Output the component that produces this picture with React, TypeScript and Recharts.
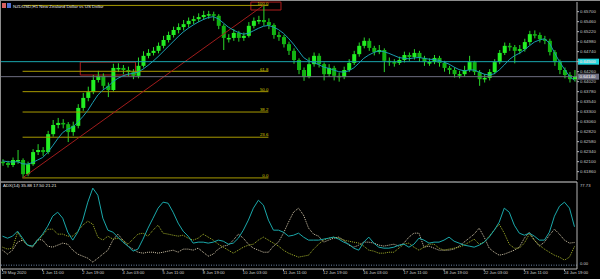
import React from 'react';
import { ComposedChart, Bar, Line, XAxis, YAxis, ReferenceLine, ReferenceArea } from 'recharts';

// NZDUSD H1, grouped 4 bars per candle
const closes = [
  0.6207, 0.6202, 0.6214, 0.6214, 0.6180, 0.6204, 0.6233, 0.6238, 0.6233, 0.6276,
  0.6298, 0.6303, 0.6300, 0.6281, 0.6296, 0.6339, 0.6363, 0.6377, 0.6406, 0.6416,
  0.6392, 0.6382, 0.6435, 0.6435, 0.6430, 0.6425, 0.6416, 0.6440, 0.6464, 0.6471,
  0.6476, 0.6488, 0.6502, 0.6514, 0.6526, 0.6533, 0.6540, 0.6548, 0.6552, 0.6557,
  0.6562, 0.6564, 0.6560, 0.6536, 0.6507, 0.6507, 0.6519, 0.6507, 0.6512, 0.6536,
  0.6548, 0.6550, 0.6545, 0.6538, 0.6514, 0.6509, 0.6492, 0.6476, 0.6454, 0.6430,
  0.6413, 0.6444, 0.6464, 0.6444, 0.6420, 0.6435, 0.6416, 0.6413, 0.6430, 0.6447,
  0.6468, 0.6488, 0.6500, 0.6483, 0.6473, 0.6478, 0.6452, 0.6449, 0.6447, 0.6454,
  0.6466, 0.6461, 0.6471, 0.6459, 0.6449, 0.6449, 0.6459, 0.6447, 0.6435, 0.6430,
  0.6420, 0.6420, 0.6430, 0.6449, 0.6425, 0.6408, 0.6411, 0.6425, 0.6449, 0.6471,
  0.6488, 0.6485, 0.6476, 0.6480, 0.6497, 0.6516, 0.6514, 0.6504, 0.6500, 0.6473,
  0.6449, 0.6430, 0.6418, 0.6408, 0.6414,
];
const highs = [
  0.6216, 0.6212, 0.6220, 0.6238, 0.6218, 0.6210, 0.6240, 0.6252, 0.6245, 0.6284,
  0.6310, 0.6315, 0.6312, 0.6305, 0.6306, 0.6348, 0.6375, 0.6390, 0.6418, 0.6428,
  0.6422, 0.6400, 0.6445, 0.6446, 0.6442, 0.6438, 0.6432, 0.6460, 0.6475, 0.6480,
  0.6485, 0.6496, 0.6512, 0.6522, 0.6534, 0.6542, 0.6550, 0.6556, 0.6560, 0.6566,
  0.6572, 0.6572, 0.6570, 0.6564, 0.6540, 0.6516, 0.6528, 0.6524, 0.6520, 0.6545,
  0.6556, 0.6560, 0.6584, 0.6554, 0.6542, 0.6522, 0.6514, 0.6498, 0.6482, 0.6458,
  0.6436, 0.6460, 0.6472, 0.6470, 0.6448, 0.6444, 0.6440, 0.6424, 0.6438, 0.6456,
  0.6476, 0.6496, 0.6508, 0.6506, 0.6488, 0.6490, 0.6482, 0.6460, 0.6456, 0.6462,
  0.6474, 0.6472, 0.6480, 0.6476, 0.6464, 0.6458, 0.6466, 0.6464, 0.6452, 0.6440,
  0.6436, 0.6428, 0.6440, 0.6464, 0.6452, 0.6430, 0.6420, 0.6432, 0.6456, 0.6478,
  0.6496, 0.6495, 0.6490, 0.6490, 0.6505, 0.6524, 0.6525, 0.6520, 0.6512, 0.6505,
  0.6478, 0.6455, 0.6436, 0.6425, 0.6430,
];
const lows = [
  0.6200, 0.6196, 0.6197, 0.6205, 0.6171, 0.6175, 0.6200, 0.6226, 0.6224, 0.6228,
  0.6270, 0.6290, 0.6290, 0.6257, 0.6272, 0.6290, 0.6332, 0.6355, 0.6372, 0.6400,
  0.6385, 0.6365, 0.6378, 0.6425, 0.6420, 0.6415, 0.6408, 0.6410, 0.6436, 0.6458,
  0.6465, 0.6470, 0.6482, 0.6496, 0.6508, 0.6518, 0.6525, 0.6532, 0.6540, 0.6545,
  0.6550, 0.6553, 0.6548, 0.6528, 0.6478, 0.6496, 0.6500, 0.6498, 0.6500, 0.6508,
  0.6530, 0.6540, 0.6536, 0.6528, 0.6505, 0.6500, 0.6484, 0.6466, 0.6445, 0.6420,
  0.6404, 0.6410, 0.6438, 0.6436, 0.6405, 0.6414, 0.6405, 0.6402, 0.6408, 0.6425,
  0.6442, 0.6462, 0.6482, 0.6476, 0.6465, 0.6468, 0.6425, 0.6440, 0.6438, 0.6442,
  0.6448, 0.6452, 0.6455, 0.6450, 0.6440, 0.6440, 0.6444, 0.6438, 0.6426, 0.6420,
  0.6412, 0.6410, 0.6415, 0.6425, 0.6418, 0.6392, 0.6400, 0.6405, 0.6420, 0.6444,
  0.6466, 0.6476, 0.6446, 0.6468, 0.6474, 0.6490, 0.6506, 0.6496, 0.6492, 0.6465,
  0.6440, 0.6420, 0.6410, 0.6400, 0.6402,
];
const maTeal = [
  0.6212, 0.6210, 0.6209, 0.6210, 0.6205, 0.6204, 0.6208, 0.6214, 0.6220, 0.6232,
  0.6248, 0.6265, 0.6280, 0.6288, 0.6293, 0.6305, 0.6318, 0.6333, 0.6352, 0.6370,
  0.6382, 0.6390, 0.6402, 0.6410, 0.6416, 0.6420, 0.6422, 0.6425, 0.6432, 0.6441,
  0.6451, 0.6462, 0.6474, 0.6486, 0.6498, 0.6510, 0.6521, 0.6530, 0.6538, 0.6545,
  0.6551, 0.6556, 0.6558, 0.6553, 0.6543, 0.6533, 0.6526, 0.6520, 0.6516, 0.6518,
  0.6524, 0.6530, 0.6535, 0.6537, 0.6533, 0.6527, 0.6518, 0.6506, 0.6492, 0.6476,
  0.6460, 0.6452, 0.6448, 0.6443, 0.6437, 0.6434, 0.6430, 0.6426, 0.6425, 0.6428,
  0.6435, 0.6446, 0.6458, 0.6466, 0.6472, 0.6476, 0.6474, 0.6470, 0.6465, 0.6460,
  0.6458, 0.6457, 0.6459, 0.6460, 0.6458, 0.6456, 0.6455, 0.6453, 0.6449, 0.6444,
  0.6437, 0.6431, 0.6428, 0.6430, 0.6430, 0.6425, 0.6420, 0.6418, 0.6421, 0.6430,
  0.6442, 0.6455, 0.6464, 0.6470, 0.6478, 0.6488, 0.6497, 0.6502, 0.6505, 0.6495,
  0.6472, 0.6450, 0.6432, 0.6415, 0.6405,
];

// ADX(14) panel
const adxMain = [
  27.1, 25.2, 27.1, 31.8, 25.2, 18.7, 17.8, 23.4, 29.0, 36.4,
  45.8, 49.5, 43.9, 30.8, 23.4, 30.8, 42.1, 58.9, 72.0, 65.4,
  43.9, 32.7, 30.8, 26.2, 21.5, 17.8, 13.1, 15.0, 24.3, 34.6,
  43.9, 53.3, 58.9, 57.9, 49.5, 39.3, 31.8, 27.1, 20.6, 21.5,
  21.5, 20.6, 21.5, 23.4, 22.4, 19.6, 20.6, 25.2, 32.7, 42.1,
  53.3, 60.7, 56.1, 42.1, 32.7, 32.7, 30.8, 27.1, 28.0, 29.9,
  26.2, 23.4, 23.4, 23.4, 24.3, 25.2, 26.2, 24.3, 21.5, 19.6,
  15.9, 14.0, 21.5, 26.2, 20.6, 16.8, 15.9, 15.9, 16.8, 18.7,
  19.6, 16.8, 19.6, 25.2, 23.4, 20.6, 21.5, 21.5, 23.4, 26.2,
  22.4, 20.6, 18.7, 17.8, 16.8, 18.7, 21.5, 26.2, 32.7, 40.2,
  53.3, 49.5, 37.4, 29.9, 28.0, 29.9, 27.1, 23.4, 23.4, 30.8,
  45.8, 55.1, 58.9, 53.3, 35.88,
];
const plusDI = [
  16.8, 15.0, 15.9, 30.8, 23.4, 18.7, 17.8, 22.4, 28.0, 33.6,
  33.6, 29.0, 29.0, 27.1, 27.1, 31.8, 37.4, 41.1, 38.3, 26.2,
  23.4, 27.1, 24.3, 25.2, 23.4, 19.6, 24.3, 29.0, 29.9, 27.1,
  32.7, 37.4, 29.9, 29.0, 28.0, 27.1, 28.0, 25.2, 23.4, 25.2,
  29.0, 26.2, 23.4, 19.6, 16.8, 14.0, 11.2, 14.0, 16.8, 18.7,
  19.6, 23.4, 26.2, 23.4, 20.6, 17.8, 14.0, 11.2, 9.3, 7.5,
  8.4, 9.3, 15.0, 19.6, 23.4, 25.2, 26.2, 25.2, 23.4, 22.4,
  21.5, 20.6, 17.8, 14.0, 13.1, 11.2, 11.2, 12.1, 12.1, 15.9,
  19.6, 20.6, 16.8, 14.0, 16.8, 19.6, 19.6, 15.9, 14.0, 15.0,
  15.9, 16.8, 18.7, 21.5, 24.3, 19.6, 21.5, 27.1, 32.7, 38.3,
  29.9, 19.6, 15.9, 15.9, 20.6, 29.0, 23.4, 18.7, 15.0, 12.1,
  9.3, 7.5, 4.7, 7.5, 17.5,
];
const minusDI = [
  14.0, 10.3, 14.0, 21.5, 23.4, 18.7, 16.8, 24.3, 23.4, 17.8,
  16.8, 18.7, 20.6, 19.6, 14.0, 10.3, 8.4, 6.5, 2.8, 6.5,
  10.3, 14.0, 23.4, 29.0, 23.4, 17.8, 15.0, 12.1, 11.2, 12.1,
  12.1, 11.2, 12.1, 13.1, 14.0, 12.1, 15.0, 15.0, 14.0, 15.9,
  12.1, 8.4, 10.3, 15.0, 17.8, 18.7, 23.4, 29.0, 25.2, 19.6,
  15.9, 14.0, 12.1, 12.1, 17.8, 21.5, 29.9, 40.2, 49.5, 53.3,
  46.7, 34.6, 29.0, 27.1, 21.5, 23.4, 25.2, 26.2, 23.4, 18.7,
  16.8, 18.7, 21.5, 21.5, 20.6, 18.7, 17.8, 18.7, 19.6, 17.8,
  20.6, 26.2, 29.9, 29.9, 16.8, 17.8, 15.9, 14.0, 14.0, 14.0,
  15.0, 17.8, 21.5, 25.2, 29.0, 34.6, 26.2, 15.9, 12.1, 9.3,
  10.3, 12.1, 14.0, 16.8, 25.2, 30.8, 23.4, 17.8, 21.5, 28.0,
  33.6, 29.0, 23.4, 20.6, 21.21,
];

const timeLabels = [
  '29 May 2020', '1 Jun 11:00', '2 Jun 19:00', '4 Jun 03:00', '5 Jun 11:00',
  '8 Jun 19:00', '10 Jun 03:00', '11 Jun 11:00', '12 Jun 19:00', '16 Jun 03:00',
  '17 Jun 11:00', '18 Jun 19:00', '22 Jun 03:00', '23 Jun 11:00', '24 Jun 19:00',
];
const priceTicks = [
  0.657, 0.6546, 0.6522, 0.6498, 0.6474, 0.645, 0.6426, 0.6402, 0.6378,
  0.6354, 0.633, 0.6306, 0.6282, 0.6258, 0.6234, 0.621, 0.6186,
];

const fibRatios = [0, 23.6, 38.2, 50, 61.8, 100];
const fibLow = 0.6171;
const fibHigh = 0.6585;
const fibFrom = 4;
const fibTo = 53;
const levelLine = 0.645;
const bidPrice = 0.6414;

const FONT = '"Liberation Sans", Arial, sans-serif';

const rows = closes.map((c, i) => ({
  i,
  o: i === 0 ? 0.621 : closes[i - 1],
  c,
  h: highs[i],
  l: lows[i],
  range: [lows[i], highs[i]],
  ma: maTeal[i],
  adx: adxMain[i],
  pdi: plusDI[i],
  mdi: minusDI[i],
}));
const timeTicks = timeLabels.map((_, k) => k * 8);

const Candle = (props: any) => {
  const { x, y, width, height, payload } = props;
  if (x == null || !payload) return null;
  const { o, c, h, l } = payload;
  const top = Math.min(y, y + height);
  const hh = Math.abs(height);
  const span = h - l || 1e-9;
  const toY = (v: number) => top + ((h - v) / span) * hh;
  const up = c >= o;
  const bTop = toY(Math.max(o, c));
  const bBot = toY(Math.min(o, c));
  const cx = x + width / 2;
  const col = up ? '#22ee22' : '#12b412';
  return (
    <g>
      <line x1={cx} x2={cx} y1={top} y2={top + hh} stroke="#2ad82a" strokeWidth={1} />
      <rect x={x} y={bTop} width={width} height={Math.max(1.5, bBot - bTop)} fill={col} />
    </g>
  );
};

const FibLabel = (props: any) => {
  const { viewBox, text } = props;
  if (!viewBox) return null;
  return (
    <text x={viewBox.x + viewBox.width} y={viewBox.y - 0.8} textAnchor="end" fontSize={4.4}
      fontFamily={FONT} fill="#d8c800">{text}</text>
  );
};

const PriceTag = (props: any) => {
  const { viewBox, text, bg, fg } = props;
  if (!viewBox) return null;
  const x = viewBox.x + viewBox.width + 1;
  return (
    <g>
      <rect x={x} y={viewBox.y - 3} width={21} height={6} fill={bg} />
      <text x={x + 1.5} y={viewBox.y + 1.6} fontSize={4.4} fontFamily={FONT} fill={fg}>{text}</text>
    </g>
  );
};

const TimeTick = (props: any) => {
  const { x, y, payload } = props;
  return (
    <text x={x - 0.5} y={y} dy={3.4} fontSize={4.2} fontFamily={FONT} fill="#cfcfcf" textAnchor="start">
      {timeLabels[payload.value / 8]}
    </text>
  );
};

const AdxTick = (props: any) => {
  const { x, y, payload } = props;
  const top = payload.value > 50;
  return (
    <text x={x} y={y + (top ? 5 : 0)} fontSize={4.2} fontFamily={FONT} fill="#cfcfcf" textAnchor="start">
      {payload.value.toFixed(2)}
    </text>
  );
};

export default function App() {
  return (
    <div style={{ position: 'fixed', left: 0, top: 0, width: 600, height: 279, background: '#000', overflow: 'hidden' }}>
      <div style={{ position: 'absolute', left: 0, top: 0 }}>
        <ComposedChart width={600} height={181} data={rows} margin={{ top: 2, right: 0, bottom: 1, left: 0 }}>
          <XAxis dataKey="i" type="category" scale="band" hide />
          <YAxis orientation="right" width={23} domain={[0.6166, 0.65932]} allowDataOverflow
            ticks={priceTicks} interval={0} tickSize={2} tickMargin={1}
            tick={{ fill: '#c8c8c8', fontSize: 4.4, fontFamily: FONT }}
            tickFormatter={(v: number) => v.toFixed(5)}
            axisLine={{ stroke: '#b4b4b4' }} tickLine={{ stroke: '#b4b4b4' }} />
          {fibRatios.map((r) => {
            const v = fibLow + ((fibHigh - fibLow) * r) / 100;
            return (
              <ReferenceLine key={r} segment={[{ x: fibFrom, y: v }, { x: fibTo, y: v }]}
                stroke="#a89a00" strokeWidth={1} ifOverflow="visible"
                label={<FibLabel text={r.toFixed(1)} />} />
            );
          })}
          <ReferenceLine segment={[{ x: fibFrom, y: fibLow }, { x: 52, y: fibHigh }]}
            stroke="#a01c1c" strokeWidth={1} ifOverflow="visible" />
          <ReferenceArea x1={16} x2={26} y1={0.6418} y2={0.6449} stroke="#b01c1c" strokeWidth={1}
            fill="none" fillOpacity={0} ifOverflow="visible" />
          <ReferenceArea x1={50} x2={55} y1={0.6574} y2={0.6593} stroke="#b01c1c" strokeWidth={1}
            fill="none" fillOpacity={0} ifOverflow="visible" />
          <ReferenceLine y={levelLine} stroke="#1aa6ae" strokeWidth={1}
            label={<PriceTag text="0.64500" bg="#1fd8e0" fg="#ffffff" />} />
          <ReferenceLine y={bidPrice} stroke="#6e6e80" strokeWidth={1}
            label={<PriceTag text="0.64140" bg="#6e6e80" fg="#ffffff" />} />
          <Bar dataKey="range" shape={<Candle />} barSize={4} isAnimationActive={false} />
          <Line dataKey="ma" stroke="#1b9cb0" strokeWidth={1} dot={false} isAnimationActive={false} />
        </ComposedChart>
      </div>
      <div style={{ position: 'absolute', left: 0, top: 180 }}>
        <ComposedChart width={600} height={99} data={rows} margin={{ top: 2, right: 0, bottom: 0, left: 0 }}>
          <XAxis dataKey="i" type="category" scale="band" ticks={timeTicks} interval={0} height={10}
            tickSize={2} tickMargin={0} tick={<TimeTick />}
            axisLine={{ stroke: '#b4b4b4' }} tickLine={{ stroke: '#b4b4b4' }} />
          <YAxis orientation="right" width={23} domain={[-3.6, 77.73]} allowDataOverflow
            ticks={[77.73, 0]} interval={0} tickSize={0} tickMargin={3} tick={<AdxTick />}
            axisLine={{ stroke: '#b4b4b4' }} tickLine={false} />
          <ReferenceLine y={77.73} stroke="#d8d8d8" strokeWidth={1.2} />
          <ReferenceLine y={0} stroke="#6f86a8" strokeDasharray="1 1.5" />
          <Line dataKey="mdi" stroke="#d2c6aa" strokeWidth={1} strokeDasharray="1 1" dot={false} isAnimationActive={false} />
          <Line dataKey="pdi" stroke="#a2b02a" strokeWidth={1} strokeDasharray="1 1" dot={false} isAnimationActive={false} />
          <Line dataKey="adx" stroke="#1aa8aa" strokeWidth={1} dot={false} isAnimationActive={false} />
        </ComposedChart>
      </div>
      <svg width={600} height={279} style={{ position: 'absolute', left: 0, top: 0, pointerEvents: 'none' }}>
        <rect x={0} y={0} width={600} height={1} fill="#8c8c8c" />
        <rect x={0} y={0} width={1} height={279} fill="#8c8c8c" />
        <rect x={2} y={3} width={4} height={5} fill="#d86060" />
        <rect x={7} y={3} width={4} height={5} fill="#5070d0" />
        <text x={13} y={7.5} fontSize={4.4} fontFamily={FONT} fill="#e4e4e4">NZDUSD,H1  New Zealand Dollar vs US Dollar</text>
        <text x={3} y={187} fontSize={4.4} fontFamily={FONT} fill="#e4e4e4">ADX(14) 35.88 17.50 21.21</text>
      </svg>
    </div>
  );
}
